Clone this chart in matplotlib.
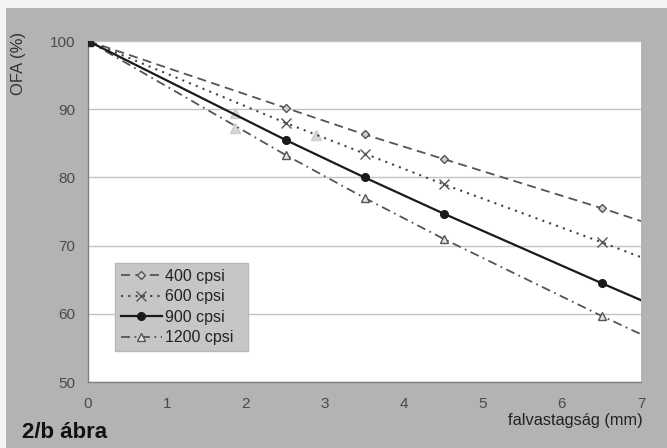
import matplotlib
matplotlib.use("Agg")
import matplotlib.pyplot as plt
import numpy as np

plt.rcParams['font.family'] = ['Liberation Sans', 'DejaVu Sans']

# data
thickness = [0, 2.5, 3.5, 4.5, 6.5, 7.0]
ofa_400 = [100, 90.2, 86.3, 82.7, 75.5, 73.6]
ofa_600 = [100, 88.0, 83.5, 79.0, 70.5, 68.3]
ofa_900 = [100, 85.5, 80.0, 74.7, 64.5, 62.0]
ofa_1200 = [100, 83.3, 77.0, 71.0, 59.7, 57.0]
faint_x = [1.86, 1.86, 2.88]
faint_y = [89.4, 87.2, 86.2]
labels = ["400 cpsi", "600 cpsi", "900 cpsi", "1200 cpsi"]
xticks = [0, 1, 2, 3, 4, 5, 6, 7]
yticks = [50, 60, 70, 80, 90, 100]

W, H = 667, 448
fig = plt.figure(figsize=(W / 100, H / 100), dpi=100)
fig.patch.set_facecolor("#b3b3b3")
# white scan borders at the top and left
fig.patches.append(plt.Rectangle((0, 1 - 8 / H), 1, 8 / H, transform=fig.transFigure,
                                 facecolor="#f4f4f4", edgecolor="none", zorder=0))
fig.patches.append(plt.Rectangle((0, 0), 6 / W, 1, transform=fig.transFigure,
                                 facecolor="#f4f4f4", edgecolor="none", zorder=0))

ax = fig.add_axes([88 / W, 1 - 382 / H, (641 - 88) / W, (382 - 41) / H])
ax.set_facecolor("white")

mk = [0, 1, 2, 3, 4]
ax.plot(thickness, ofa_400, linestyle=(0, (5, 3)), color="#555555", lw=1.3,
        marker="D", markersize=4, markerfacecolor="#d0d0d0", markeredgecolor="#555555",
        markevery=mk, label=labels[0], zorder=3)
ax.plot(thickness, ofa_600, linestyle=(0, (1, 2.5)), color="#444444", lw=1.5,
        marker="x", markersize=6.5, markeredgecolor="#555555", markeredgewidth=1.0,
        markevery=mk, label=labels[1], zorder=3)
ax.plot(thickness, ofa_900, linestyle="-", color="#1a1a1a", lw=1.6,
        marker="o", markersize=5.5, markerfacecolor="#1a1a1a", markeredgecolor="#1a1a1a",
        markevery=mk, label=labels[2], zorder=4)
ax.plot(thickness, ofa_1200, linestyle=(0, (5, 2.5, 1, 2.5)), color="#555555", lw=1.3,
        marker="^", markersize=5.5, markerfacecolor="#e6e6e6", markeredgecolor="#555555",
        markevery=mk, label=labels[3], zorder=3)
ax.plot(faint_x, faint_y, linestyle="none", marker="^", markersize=7,
        color="#d6d6d6", markeredgecolor="#cccccc", zorder=2)
ax.plot([0], [100], marker="s", markersize=7, color="#222222", zorder=5)

ax.set_xlim(0, 7)
ax.set_ylim(50, 100)
ax.set_xticks(xticks)
ax.set_yticks(yticks)
ax.tick_params(axis="both", length=0, labelsize=11, labelcolor="#4a4a4a")
ax.tick_params(axis="y", pad=9)
ax.tick_params(axis="x", pad=11)
ax.yaxis.grid(True, color="#c4c4c4", lw=1.0)
ax.set_axisbelow(True)
for s in ["top", "right"]:
    ax.spines[s].set_visible(False)
for s in ["left", "bottom"]:
    ax.spines[s].set_color("#808080")
    ax.spines[s].set_linewidth(1.0)

AW, AH = 641 - 88, 382 - 41
leg = ax.legend(loc="upper left",
                bbox_to_anchor=((115 - 88) / AW, (382 - 349) / AH, (248 - 115) / AW, (349 - 263) / AH),
                mode="expand",
                fontsize=11.5, frameon=True, fancybox=False, handlelength=2.6,
                handletextpad=0.2, borderpad=0.35, labelspacing=0.35,
                borderaxespad=0)
leg.get_frame().set_facecolor("#c6c6c6")
leg.get_frame().set_edgecolor("#b8b8b8")
leg.get_frame().set_alpha(1)
for t in leg.get_texts():
    t.set_color("#222222")

fig.text(18 / W, 1 - 63 / H, "OFA (%)", rotation=90, ha="center", va="center",
         fontsize=12, color="#333333")
fig.text(643 / W, 1 - 420 / H, "falvastagság (mm)", ha="right", va="center",
         fontsize=11.8, color="#222222")
fig.text(22 / W, 1 - 432 / H, "2/b ábra", ha="left", va="center",
         fontsize=16, fontweight="bold", color="#111111")

fig.savefig("out.png", dpi=100, facecolor=fig.get_facecolor())
